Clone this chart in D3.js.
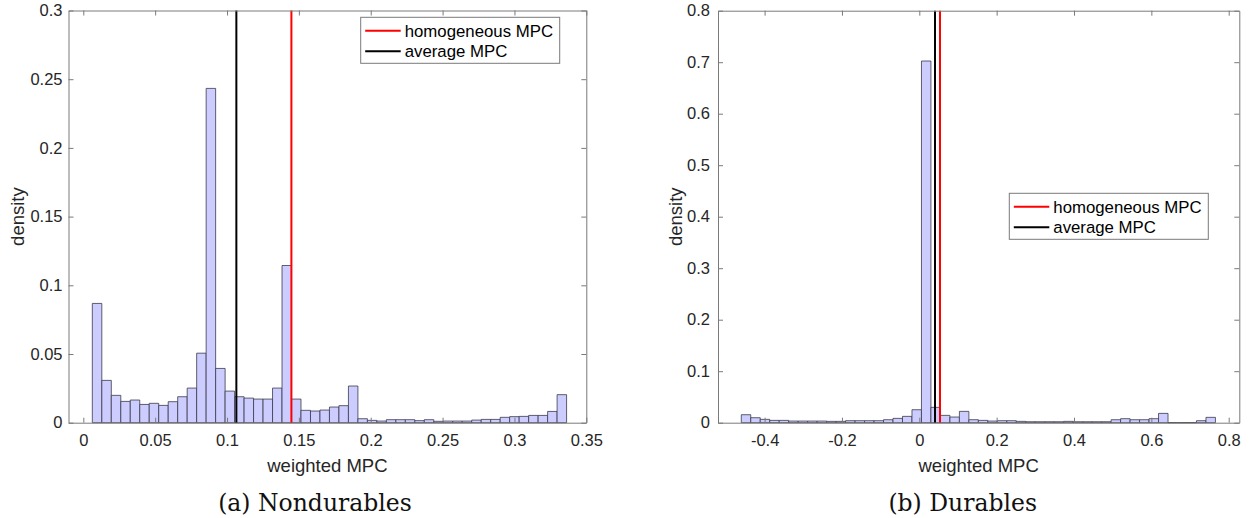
<!DOCTYPE html>
<html>
<head>
<meta charset="utf-8">
<script src="https://cdn.jsdelivr.net/npm/d3@7"></script>
<style>
  html, body { margin: 0; padding: 0; background: #fff; }
  svg { display: block; }
  .tick text { font-family: "Liberation Sans", Arial, Helvetica, sans-serif; fill: #262626; }
</style>
</head>
<body>
<svg id="chart" width="1251" height="518"></svg>
<script>
// ---- Nondurables: histogram of weighted MPC ----
const nondurBinStart = 0.00628;
const nondurBinWidth = 0.0066;
const nondurDensity = [
  0.0868, 0.0308, 0.0199, 0.0155, 0.0165, 0.0133, 0.0141, 0.0126, 0.0153, 0.0189,
  0.0252, 0.0506, 0.2433, 0.0395, 0.0230, 0.0189, 0.0179, 0.0172, 0.0172, 0.0252,
  0.1144, 0.0172, 0.0090, 0.0085, 0.0092, 0.0114, 0.0124, 0.0267, 0.0029, 0.0017,
  0.0012, 0.0022, 0.0022, 0.0022, 0.0015, 0.0022, 0.0010, 0.0012, 0.0012, 0.0012,
  0.0019, 0.0024, 0.0024, 0.0039, 0.0044, 0.0046, 0.0053, 0.0053, 0.0082, 0.0204
];
const nondurHomogeneousMPC = 0.1448;
const nondurAverageMPC = 0.1065;
const nondurXTicks = [0, 0.05, 0.1, 0.15, 0.2, 0.25, 0.3, 0.35];
const nondurXTickLabels = ["0", "0.05", "0.1", "0.15", "0.2", "0.25", "0.3", "0.35"];
const nondurYTicks = [0, 0.05, 0.1, 0.15, 0.2, 0.25, 0.3];
const nondurYTickLabels = ["0", "0.05", "0.1", "0.15", "0.2", "0.25", "0.3"];
const nondurXDomain = [-0.0103, 0.35];
const nondurYDomain = [0, 0.3];

// ---- Durables: histogram of weighted MPC ----
const durBinStart = -0.4603;
const durBinWidth = 0.02452;
const durDensity = [
  0.0155, 0.0097, 0.0065, 0.0045, 0.0045, 0.0032, 0.0032, 0.0032, 0.0032, 0.0026,
  0.0026, 0.0039, 0.0039, 0.0039, 0.0039, 0.0058, 0.0084, 0.0123, 0.0252, 0.7023,
  0.0298, 0.0142, 0.0110, 0.0220, 0.0058, 0.0045, 0.0032, 0.0039, 0.0039, 0.0026,
  0.0019, 0.0019, 0.0019, 0.0019, 0.0026, 0.0019, 0.0019, 0.0019, 0.0019, 0.0058,
  0.0078, 0.0058, 0.0058, 0.0078, 0.0181, 0.0000, 0.0000, 0.0000, 0.0039, 0.0104
];
const durHomogeneousMPC = 0.0535;
const durAverageMPC = 0.0406;
const durXTicks = [-0.4, -0.2, 0, 0.2, 0.4, 0.6, 0.8];
const durXTickLabels = ["-0.4", "-0.2", "0", "0.2", "0.4", "0.6", "0.8"];
const durYTicks = [0, 0.1, 0.2, 0.3, 0.4, 0.5, 0.6, 0.7, 0.8];
const durYTickLabels = ["0", "0.1", "0.2", "0.3", "0.4", "0.5", "0.6", "0.7", "0.8"];
const durXDomain = [-0.5205, 0.8274];
const durYDomain = [0, 0.8];

const legendLabels = ["homogeneous MPC", "average MPC"];
const xAxisTitle = "weighted MPC";
const yAxisTitle = "density";
const captions = ["(a) Nondurables", "(b) Durables"];

// ---- drawing ----
const svg = d3.select("#chart");
const SANS = '"Liberation Sans", Arial, Helvetica, sans-serif';
const SERIF = '"DejaVu Serif", "Liberation Serif", serif';
const AXIS_GRAY = "#7a7a7a";
const BAR_FILL = "#ccccff";
const BAR_EDGE = "#3a3a4a";

function drawPanel(cfg) {
  const { left, right, top, bottom } = cfg.box;
  const x = d3.scaleLinear().domain(cfg.xDomain).range([left, right]);
  const y = d3.scaleLinear().domain(cfg.yDomain).range([bottom, top]);
  const g = svg.append("g");

  // histogram bars (paths so that empty bins still show their edge)
  const bins = cfg.density.map((d, i) => ({
    x0: cfg.binStart + i * cfg.binWidth,
    x1: cfg.binStart + (i + 1) * cfg.binWidth,
    v: d
  }));
  g.append("g").selectAll("path").data(bins).join("path")
    .attr("d", b => `M${x(b.x0)},${y(0)}V${y(b.v)}H${x(b.x1)}V${y(0)}Z`)
    .attr("fill", BAR_FILL)
    .attr("stroke", BAR_EDGE)
    .attr("stroke-width", 0.8)
    .attr("stroke-linejoin", "miter");

  // reference lines
  const refs = [
    { v: cfg.homogeneous, color: "#ff0000" },
    { v: cfg.average, color: "#000000" }
  ];
  g.append("g").selectAll("line").data(refs).join("line")
    .attr("x1", d => x(d.v)).attr("x2", d => x(d.v))
    .attr("y1", y(cfg.yDomain[0])).attr("y2", y(cfg.yDomain[1]))
    .attr("stroke", d => d.color)
    .attr("stroke-width", 2);

  // axes: labelled bottom/left, bare ticks top/right, ticks pointing inward
  const styleAxis = sel => {
    sel.select(".domain").attr("stroke", AXIS_GRAY).attr("stroke-width", 1);
    sel.selectAll(".tick line").attr("stroke", AXIS_GRAY).attr("stroke-width", 1);
    sel.selectAll(".tick text").attr("font-size", 16.5).attr("fill", "#262626")
      .attr("font-family", SANS);
  };
  const xLab = d3.scaleOrdinal().domain(cfg.xTicks).range(cfg.xTickLabels);
  const yLab = d3.scaleOrdinal().domain(cfg.yTicks).range(cfg.yTickLabels);

  g.append("g").attr("transform", `translate(0,${bottom})`)
    .call(d3.axisBottom(x).tickValues(cfg.xTicks).tickFormat(xLab)
      .tickSizeInner(-5).tickSizeOuter(0).tickPadding(12))
    .call(styleAxis);
  g.append("g").attr("transform", `translate(0,${top})`)
    .call(d3.axisTop(x).tickValues(cfg.xTicks).tickFormat("")
      .tickSizeInner(-5).tickSizeOuter(0))
    .call(styleAxis);
  g.append("g").attr("transform", `translate(${left},0)`)
    .call(d3.axisLeft(y).tickValues(cfg.yTicks).tickFormat(yLab)
      .tickSizeInner(-5).tickSizeOuter(0).tickPadding(cfg.yPad))
    .call(styleAxis);
  g.append("g").attr("transform", `translate(${right},0)`)
    .call(d3.axisRight(y).tickValues(cfg.yTicks).tickFormat("")
      .tickSizeInner(-5).tickSizeOuter(0))
    .call(styleAxis);

  // axis titles
  g.append("text")
    .attr("x", (left + right) / 2).attr("y", cfg.xTitleY)
    .attr("text-anchor", "middle").attr("dy", "0.35em")
    .attr("font-family", SANS).attr("font-size", 18.5).attr("fill", "#262626")
    .text(xAxisTitle);
  g.append("text")
    .attr("transform", `translate(${cfg.yTitleX},${(top + bottom) / 2}) rotate(-90)`)
    .attr("text-anchor", "middle").attr("dy", "0.35em")
    .attr("font-family", SANS).attr("font-size", 18.5).attr("fill", "#262626")
    .text(yAxisTitle);

  // legend
  const L = cfg.legend;
  const lg = g.append("g").attr("transform", `translate(${L.x},${L.y})`);
  lg.append("rect").attr("width", 199).attr("height", 46)
    .attr("fill", "#fff").attr("stroke", AXIS_GRAY).attr("stroke-width", 1);
  const rows = [
    { label: legendLabels[0], color: "#ff0000", dy: 13.5 },
    { label: legendLabels[1], color: "#000000", dy: 34 }
  ];
  rows.forEach(r => {
    lg.append("line").attr("x1", 4.5).attr("x2", 40).attr("y1", r.dy).attr("y2", r.dy)
      .attr("stroke", r.color).attr("stroke-width", 2);
    lg.append("text").attr("x", 44).attr("y", r.dy).attr("dy", "0.35em")
      .attr("font-family", SANS).attr("font-size", 16.8).attr("fill", "#000")
      .text(r.label);
  });

  // caption
  svg.append("text")
    .attr("x", cfg.captionX).attr("y", 503).attr("dy", "0.35em")
    .attr("text-anchor", "middle")
    .attr("font-family", SERIF).attr("font-size", 23.5).attr("fill", "#111")
    .text(cfg.caption);
}

drawPanel({
  box: { left: 68.5, right: 586.3, top: 10.5, bottom: 422.7 },
  xDomain: nondurXDomain, yDomain: nondurYDomain,
  binStart: nondurBinStart, binWidth: nondurBinWidth, density: nondurDensity,
  homogeneous: nondurHomogeneousMPC, average: nondurAverageMPC,
  xTicks: nondurXTicks, xTickLabels: nondurXTickLabels,
  yTicks: nondurYTicks, yTickLabels: nondurYTickLabels,
  yPad: 6, xTitleY: 466, yTitleX: 17.5,
  legend: { x: 360.7, y: 17.3 },
  caption: captions[0], captionX: 315
});

drawPanel({
  box: { left: 718, right: 1239.3, top: 10.7, bottom: 422.7 },
  xDomain: durXDomain, yDomain: durYDomain,
  binStart: durBinStart, binWidth: durBinWidth, density: durDensity,
  homogeneous: durHomogeneousMPC, average: durAverageMPC,
  xTicks: durXTicks, xTickLabels: durXTickLabels,
  yTicks: durYTicks, yTickLabels: durYTickLabels,
  yPad: 8, xTitleY: 466, yTitleX: 676,
  legend: { x: 1009.3, y: 193.3 },
  caption: captions[1], captionX: 962.7
});
</script>
</body>
</html>
